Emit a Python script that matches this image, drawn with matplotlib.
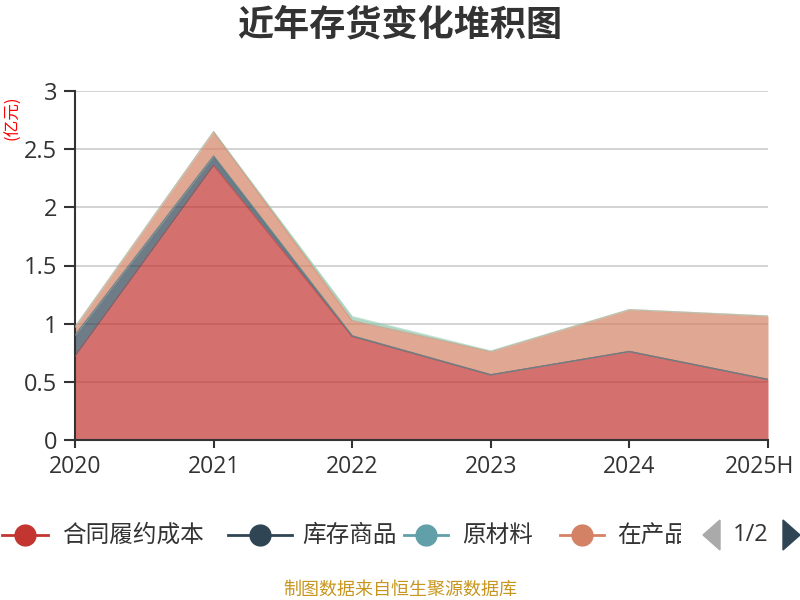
import matplotlib
matplotlib.use("Agg")
import matplotlib.pyplot as plt
import numpy as np
from matplotlib.lines import Line2D
from matplotlib.patches import Polygon
from matplotlib.transforms import Bbox, ScaledTranslation

plt.rcParams['font.family'] = ['Noto Sans CJK SC', 'DejaVu Sans']

years = ['2020', '2021', '2022', '2023', '2024', '2025H']
series_names = ['合同履约成本', '库存商品', '原材料', '在产品', '周转材料']
colors = ['#c23531', '#2f4554', '#61a0a8', '#d48265', '#91c7ae']

# values in 亿元
contract_cost = [0.72, 2.36, 0.89, 0.56, 0.76, 0.52]
goods = [0.18, 0.08, 0.005, 0.0, 0.0, 0.0]
raw_material = [0.0, 0.0, 0.0, 0.0, 0.0, 0.0]
wip = [0.07, 0.21, 0.13, 0.20, 0.36, 0.545]
turnover = [0.0, 0.0, 0.035, 0.005, 0.0, 0.0]

data = [contract_cost, goods, raw_material, wip, turnover]
legend_shown = 4

fig = plt.figure(figsize=(8, 6), dpi=100)
ax = fig.add_axes([75/800, 1-440/600, 693/800, 349/600])

x = np.arange(len(years))
base = np.zeros(len(years))
for vals, col in zip(data, colors):
    top = base + np.array(vals)
    ax.fill_between(x, base, top, color=col, alpha=0.7, linewidth=0, zorder=2)
    ax.plot(x, top, color=col, lw=1, alpha=0.5, zorder=3)
    base = top

ax.set_xlim(0, len(years) - 1)
ax.set_ylim(0, 3)
ax.set_yticks([0, 0.5, 1, 1.5, 2, 2.5, 3])
ax.set_yticklabels(['0', '0.5', '1', '1.5', '2', '2.5', '3'])
ax.set_xticks(x)
ax.set_xticklabels(years)
ax.grid(axis='y', color='#cccccc', lw=1.2, zorder=1)
ax.set_axisbelow(True)
for s in ['top', 'right']:
    ax.spines[s].set_visible(False)
for s in ['left', 'bottom']:
    ax.spines[s].set_color('#333333')
    ax.spines[s].set_linewidth(1.5)
ax.tick_params(axis='y', colors='#333333', length=8, width=1.5, pad=5)
ax.tick_params(axis='x', colors='#333333', length=6, width=1.5, pad=5)
for lab in ax.get_yticklabels():
    lab.set_family(['Open Sans', 'Noto Sans CJK SC'])
    lab.set_fontsize(17)
for lab in ax.get_xticklabels():
    lab.set_family(['Open Sans', 'Noto Sans CJK SC'])
    lab.set_fontsize(16.5)
# keep the last label inside the canvas
last = ax.get_xticklabels()[-1]
last.set_transform(last.get_transform() + ScaledTranslation(-8/100, 0, fig.dpi_scale_trans))

fig.text(0.5, 1-25/600, '近年存货变化堆积图', ha='center', va='center',
         fontsize=26, fontweight='bold', color='#333333')
fig.text(13/800, 1-118/600, '(亿元)', ha='center', va='center', rotation=90,
         fontsize=12, color='#ff0000')

# legend, page 1 of 2
ly = 1 - 535/600
line_x = [(2, 48), (228, 292), (404, 448), (560, 604)]
text_x = [62, 302, 462, 617]
for i in range(legend_shown):
    x0, x1 = line_x[i]
    fig.add_artist(Line2D([x0/800, x1/800], [ly, ly], transform=fig.transFigure,
                          color=colors[i], lw=2))
    fig.add_artist(Line2D([(x0+x1)/2/800], [ly], transform=fig.transFigure,
                          marker='o', markersize=15, color=colors[i], lw=0))
    t = fig.text(text_x[i]/800, ly, series_names[i], ha='left', va='center',
                 fontsize=17, color='#333333')
    if i == legend_shown - 1:
        t.set_clip_box(Bbox.from_extents(0, 0, 681, 600))
        t.set_clip_on(True)

fig.add_artist(Polygon([[703/800, ly], [720/800, ly+15/600], [720/800, ly-15/600]],
                       closed=True, transform=fig.transFigure, color='#aaaaaa'))
fig.add_artist(Polygon([[800/800, ly], [783/800, ly+15/600], [783/800, ly-15/600]],
                       closed=True, transform=fig.transFigure, color='#2f4554'))
fig.text(751/800, ly, '1/2', ha='center', va='center', fontsize=17,
         color='#333333', family=['Open Sans', 'Noto Sans CJK SC'])

fig.text(0.5, 1-590/600, '制图数据来自恒生聚源数据库', ha='center', va='center',
         fontsize=13, color='#c8961e')

fig.savefig('out.png', dpi=100)
